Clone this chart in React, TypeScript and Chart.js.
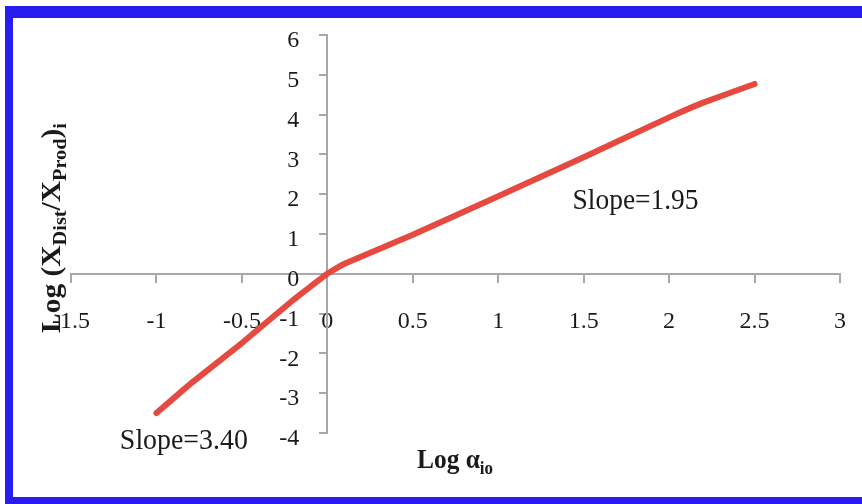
import React, { useEffect, useRef } from "react";
import { Chart, registerables } from "chart.js";

Chart.register(...registerables);

// ---- data ----
const logAlpha = [-1, -0.8, -0.5, -0.2, 0, 0.1, 0.5, 1, 1.5, 2, 2.2, 2.5];
const logRatio = [-3.5, -2.76, -1.74, -0.66, 0, 0.25, 0.98, 1.95, 2.93, 3.93, 4.3, 4.77];

const xRange = [-1.5, 3];
const xStep = 0.5;
const yRange = [-4, 6];
const yStep = 1;

const slopeTexts = ["Slope=1.95", "Slope=3.40"];

// ---- styles ----
const LINE_COLOR = "#E5493F";
const AXIS_COLOR = "#a8a8a8";
const TEXT_COLOR = "#1a1a1a";
const BLUE = "rgb(40,28,240)";
const SERIF = "'Liberation Serif', 'Times New Roman', serif";

const CANVAS_W = 872;
const CANVAS_H = 504;

const fmt = (v: any) => String(Math.round(Number(v) * 100) / 100);

type Piece = { t: string; sub?: boolean };

function drawRich(
  ctx: CanvasRenderingContext2D,
  pieces: Piece[],
  size: number,
  weight: string,
  targetW: number,
  sy: number
) {
  const subSize = Math.round(size * 0.68);
  const fMain = `${weight} ${size}px ${SERIF}`;
  const fSub = `${weight} ${subSize}px ${SERIF}`;
  let w = 0;
  for (const p of pieces) {
    ctx.font = p.sub ? fSub : fMain;
    w += ctx.measureText(p.t).width;
  }
  const sx = targetW / w;
  ctx.save();
  ctx.scale(sx, sy);
  ctx.textAlign = "left";
  ctx.textBaseline = "alphabetic";
  ctx.fillStyle = TEXT_COLOR;
  let x = 0;
  for (const p of pieces) {
    ctx.font = p.sub ? fSub : fMain;
    ctx.fillText(p.t, x, p.sub ? size * 0.22 : 0);
    x += ctx.measureText(p.t).width;
  }
  ctx.restore();
}

const textPlugin = {
  id: "richTexts",
  afterDraw(chart: any) {
    const ctx: CanvasRenderingContext2D = chart.ctx;
    const xs = chart.scales.x;
    const ys = chart.scales.y;
    ctx.save();
    // slope annotations
    ctx.save();
    ctx.translate(xs.getPixelForValue(1.435), ys.getPixelForValue(1.63));
    drawRich(ctx, [{ t: slopeTexts[0] }], 29, "normal", 126, 1);
    ctx.restore();
    ctx.save();
    ctx.translate(xs.getPixelForValue(-1.214), ys.getPixelForValue(-4.4));
    drawRich(ctx, [{ t: slopeTexts[1] }], 29, "normal", 128, 1);
    ctx.restore();
    // x axis title
    ctx.save();
    ctx.translate(417, 468);
    drawRich(ctx, [{ t: "Log " }, { t: "α" }, { t: "io", sub: true }], 27, "bold", 76, 1);
    ctx.restore();
    // y axis title
    ctx.save();
    ctx.translate(60, 333);
    ctx.rotate(-Math.PI / 2);
    drawRich(
      ctx,
      [
        { t: "Log (" },
        { t: "X" },
        { t: "Dist", sub: true },
        { t: "/" },
        { t: "X" },
        { t: "Prod", sub: true },
        { t: ")" },
        { t: "i", sub: true },
      ],
      29,
      "bold",
      210,
      0.92
    );
    ctx.restore();
    ctx.restore();
  },
};

export default function App() {
  const ref = useRef<HTMLCanvasElement>(null);

  useEffect(() => {
    const canvas = ref.current!;
    const tickFont = { family: SERIF, size: 24 };
    const chart = new Chart(canvas, {
      type: "scatter",
      data: {
        datasets: [
          {
            data: logAlpha.map((x, i) => ({ x, y: logRatio[i] })),
            showLine: true,
            borderColor: LINE_COLOR,
            backgroundColor: LINE_COLOR,
            borderWidth: 6,
            pointRadius: 0,
            pointHoverRadius: 0,
            borderCapStyle: "round",
            borderJoinStyle: "round",
            tension: 0.1,
            xAxisID: "x",
            yAxisID: "y",
          } as any,
        ],
      },
      options: {
        responsive: false,
        animation: false,
        devicePixelRatio: 1,
        events: [],
        layout: { padding: { left: 71, right: CANVAS_W - 840, top: 35, bottom: 71 } },
        plugins: { legend: { display: false }, tooltip: { enabled: false } },
        scales: {
          x: {
            type: "linear",
            position: { y: 0 } as any,
            min: xRange[0],
            max: xRange[1],
            ticks: {
              stepSize: xStep,
              autoSkip: false,
              maxRotation: 0,
              padding: 26,
              color: TEXT_COLOR,
              font: tickFont,
              callback: fmt,
            },
            grid: {
              drawOnChartArea: false,
              drawTicks: true,
              tickLength: 8,
              color: AXIS_COLOR,
              lineWidth: 2,
            },
            border: { display: true, color: AXIS_COLOR, width: 2 },
          },
          y: {
            type: "linear",
            position: { x: 0 } as any,
            min: yRange[0],
            max: yRange[1],
            ticks: { stepSize: yStep, display: false },
            grid: {
              drawOnChartArea: false,
              drawTicks: true,
              tickLength: 7,
              color: AXIS_COLOR,
              lineWidth: 2,
            },
            border: { display: true, color: AXIS_COLOR, width: 2 },
          },
          yLabels: {
            type: "linear",
            axis: "y",
            z: 1,
            position: { x: -0.164 } as any,
            min: yRange[0],
            max: yRange[1],
            ticks: {
              stepSize: yStep,
              padding: 0,
              labelOffset: 6,
              color: TEXT_COLOR,
              font: tickFont,
              callback: fmt,
            },
            grid: { display: false, drawTicks: false },
            border: { display: false },
          } as any,
        },
      },
      plugins: [textPlugin],
    });
    return () => chart.destroy();
  }, []);

  return (
    <div
      style={{
        position: "fixed",
        left: 0,
        top: 0,
        width: 862,
        height: 504,
        background: "#fff",
        overflow: "hidden",
      }}
    >
      <div style={{ position: "absolute", left: 5, top: 6, width: 857, height: 12, background: BLUE }} />
      <div style={{ position: "absolute", left: 5, top: 6, width: 8, height: 498, background: BLUE }} />
      <div style={{ position: "absolute", left: 5, top: 497, width: 857, height: 7, background: BLUE }} />
      <canvas
        ref={ref}
        width={CANVAS_W}
        height={CANVAS_H}
        style={{ position: "absolute", left: 0, top: 0, width: CANVAS_W, height: CANVAS_H, display: "block" }}
      />
    </div>
  );
}
